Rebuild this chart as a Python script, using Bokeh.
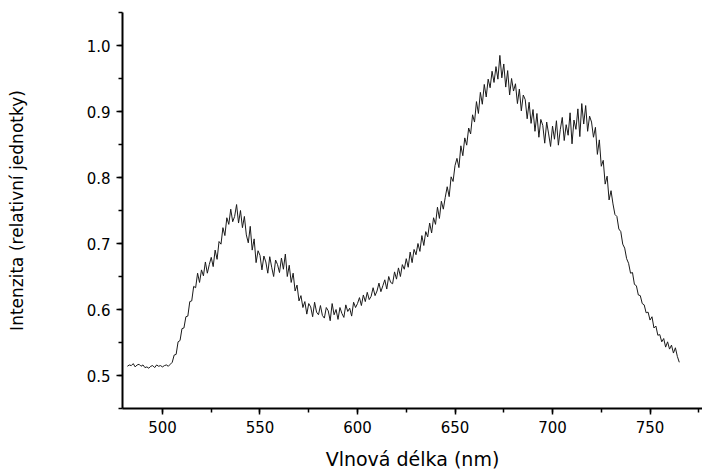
from bokeh.plotting import figure
from bokeh.models import Range1d, FixedTicker, NumeralTickFormatter
from bokeh.embed import file_html
from bokeh.resources import INLINE

# wavelengths (nm), 1 nm steps from 482 to 765
wl_start = 482
intensity = [
    # 482-504
    0.514, 0.516, 0.515, 0.518, 0.513, 0.516, 0.517, 0.514, 0.516, 0.512,
    0.513, 0.511, 0.514, 0.515, 0.512, 0.516, 0.514, 0.515, 0.513, 0.515,
    0.516, 0.514, 0.517,
    # 505-520
    0.520, 0.531, 0.532, 0.551, 0.553, 0.571, 0.572, 0.589, 0.590, 0.612,
    0.613, 0.635, 0.633, 0.655, 0.641, 0.660,
    # 521-530
    0.651, 0.672, 0.655, 0.668, 0.679, 0.665, 0.690, 0.676, 0.703, 0.699,
    # 531-540
    0.724, 0.712, 0.739, 0.729, 0.752, 0.733, 0.741, 0.759, 0.731, 0.750,
    # 541-550
    0.724, 0.741, 0.713, 0.701, 0.726, 0.690, 0.707, 0.671, 0.689, 0.682,
    # 551-560
    0.660, 0.681, 0.672, 0.655, 0.680, 0.664, 0.650, 0.675, 0.668, 0.656,
    # 561-570
    0.678, 0.661, 0.684, 0.650, 0.667, 0.641, 0.655, 0.628, 0.637, 0.613,
    # 571-580
    0.621, 0.603, 0.612, 0.593, 0.609, 0.604, 0.589, 0.611, 0.596, 0.592,
    # 581-590
    0.606, 0.591, 0.587, 0.603, 0.598, 0.583, 0.609, 0.592, 0.600, 0.585,
    # 591-600
    0.603, 0.594, 0.588, 0.607, 0.597, 0.602, 0.590, 0.611, 0.603, 0.609,
    # 601-610
    0.618, 0.606, 0.622, 0.612, 0.626, 0.615, 0.620, 0.633, 0.621, 0.628,
    # 611-620
    0.640, 0.627, 0.636, 0.645, 0.631, 0.650, 0.641, 0.639, 0.657, 0.646,
    # 621-630
    0.663, 0.650, 0.668, 0.661, 0.677, 0.664, 0.687, 0.671, 0.691, 0.683,
    # 631-640
    0.700, 0.688, 0.712, 0.697, 0.718, 0.710, 0.731, 0.716, 0.739, 0.729,
    # 641-650
    0.755, 0.738, 0.764, 0.752, 0.770, 0.786, 0.771, 0.801, 0.794, 0.818,
    # 651-660
    0.829, 0.815, 0.848, 0.833, 0.860, 0.849, 0.875, 0.866, 0.895, 0.884,
    # 661-670
    0.915, 0.897, 0.929, 0.911, 0.941, 0.922, 0.949, 0.936, 0.961, 0.944,
    # 671-680
    0.968, 0.949, 0.985, 0.951, 0.972, 0.937, 0.962, 0.925, 0.950, 0.931,
    # 681-690
    0.942, 0.912, 0.934, 0.901, 0.925, 0.918, 0.889, 0.914, 0.882, 0.903,
    # 691-700
    0.870, 0.897, 0.861, 0.888, 0.879, 0.852, 0.884, 0.866, 0.847, 0.878,
    # 701-710
    0.858, 0.886, 0.849, 0.873, 0.891, 0.856, 0.880, 0.864, 0.898, 0.851,
    # 711-720
    0.887, 0.873, 0.904, 0.862, 0.912, 0.881, 0.909, 0.870, 0.893, 0.884,
    # 721-730
    0.861, 0.876, 0.835, 0.857, 0.817, 0.826, 0.790, 0.802, 0.766, 0.780,
    # 731-740
    0.760, 0.744, 0.741, 0.722, 0.718, 0.699, 0.693, 0.677, 0.670, 0.655,
    # 741-750
    0.656, 0.638, 0.636, 0.622, 0.621, 0.609, 0.607, 0.595, 0.596, 0.584,
    # 751-760
    0.589, 0.572, 0.575, 0.561, 0.562, 0.551, 0.556, 0.543, 0.551, 0.540,
    # 761-765
    0.546, 0.534, 0.542, 0.529, 0.520,
]
wavelength = [wl_start + i for i in range(len(intensity))]

x_ticks = [500, 550, 600, 650, 700, 750]
y_ticks = [0.5, 0.6, 0.7, 0.8, 0.9, 1.0]
x_title = "Vlnová délka (nm)"
y_title = "Intenzita (relativní jednotky)"

FONT = "DejaVu Sans"

p = figure(width=702, height=474, output_backend="svg", toolbar_location=None,
           x_range=Range1d(479.5, 776.9), y_range=Range1d(0.45, 1.05),
           min_border_left=122, min_border_right=0, min_border_top=12,
           min_border_bottom=66)
p.outline_line_color = None
p.grid.visible = False
p.background_fill_color = "white"
p.border_fill_color = "white"

p.line(wavelength, intensity, line_color="#1a1a1a", line_width=1)

p.xaxis.ticker = FixedTicker(ticks=x_ticks, minor_ticks=[475 + 25 * i for i in range(13)])
p.yaxis.ticker = FixedTicker(ticks=y_ticks, minor_ticks=[0.45 + 0.05 * i for i in range(13)])
p.yaxis.formatter = NumeralTickFormatter(format="0.0")

for ax in (p.xaxis[0], p.yaxis[0]):
    ax.axis_line_width = 2
    ax.axis_line_color = "black"
    ax.major_tick_line_width = 1.5
    ax.minor_tick_line_width = 1.5
    ax.major_tick_in = 0
    ax.major_tick_out = 6
    ax.minor_tick_in = 0
    ax.minor_tick_out = 4
    ax.major_tick_line_color = "black"
    ax.minor_tick_line_color = "black"
    ax.major_label_text_font = FONT
    ax.major_label_text_font_size = "15px"
    ax.major_label_text_color = "black"
    ax.major_label_standoff = 6
    ax.axis_label_text_font = FONT
    ax.axis_label_text_font_style = "normal"
    ax.axis_label_text_color = "black"

p.xaxis.axis_label = x_title
p.xaxis.axis_label_text_font_size = "19px"
p.xaxis.axis_label_standoff = 12
p.yaxis.axis_label = y_title
p.yaxis.axis_label_text_font_size = "17px"
p.yaxis.axis_label_standoff = 57

open("out.html", "w").write(file_html(p, INLINE))
